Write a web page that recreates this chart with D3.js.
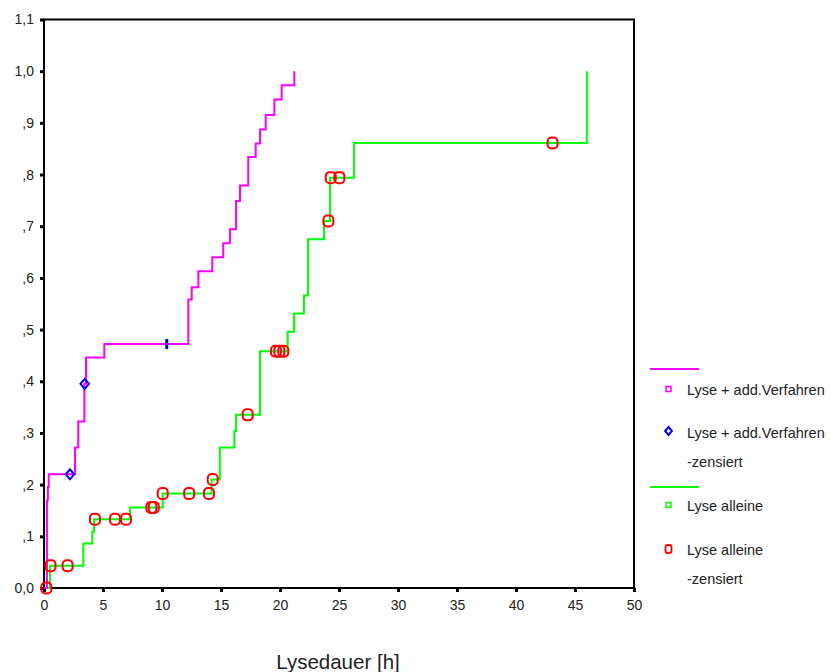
<!DOCTYPE html>
<html>
<head>
<meta charset="utf-8">
<script src="https://cdn.jsdelivr.net/npm/d3@7"></script>
<style>
  body { margin: 0; background: #fff; }
  svg text { font-family: "Liberation Sans", Arial, sans-serif; fill: #222; }
</style>
</head>
<body>
<div id="chart"></div>
<script>
"use strict";

// Kaplan-Meier style cumulative curves
const magTimes = [0, 0.25, 0.33, 0.4, 2.63, 2.9, 3.42, 3.56, 5.11, 12.23, 12.52, 13.08, 14.26, 15.19, 15.76, 16.27, 16.61, 17.31, 17.94, 18.31, 18.79, 19.52, 20.14, 21.21];
const magValues = [0, 0.17, 0.195, 0.22, 0.272, 0.322, 0.395, 0.446, 0.472, 0.558, 0.582, 0.613, 0.64, 0.667, 0.694, 0.749, 0.779, 0.834, 0.86, 0.887, 0.915, 0.945, 0.973, 1.0];
const magCensTimes = [2.2, 3.45];
const magCensValues = [0.22, 0.395];
const magTickTimes = [10.4];
const magTickValues = [0.472];

const greenTimes = [0, 0.5, 3.33, 4.09, 4.24, 7.29, 10.06, 14.2, 14.9, 16.13, 16.27, 18.3, 20.65, 21.19, 22.03, 22.37, 23.73, 24.24, 26.27, 46.0];
const greenValues = [0, 0.043, 0.086, 0.109, 0.133, 0.156, 0.183, 0.21, 0.272, 0.304, 0.335, 0.458, 0.496, 0.531, 0.566, 0.675, 0.71, 0.794, 0.861, 1.0];
const greenCensTimes = [0.2, 0.55, 2.0, 4.32, 6.02, 6.95, 9.1, 9.3, 10.06, 12.3, 13.98, 14.3, 17.26, 19.66, 19.94, 20.28, 24.1, 24.3, 25.03, 43.1];
const greenCensValues = [0, 0.043, 0.043, 0.133, 0.133, 0.133, 0.156, 0.156, 0.183, 0.183, 0.183, 0.21, 0.335, 0.458, 0.458, 0.458, 0.71, 0.794, 0.794, 0.861];

const xTicks = [0, 5, 10, 15, 20, 25, 30, 35, 40, 45, 50];
const yTicks = [0, 0.1, 0.2, 0.3, 0.4, 0.5, 0.6, 0.7, 0.8, 0.9, 1.0, 1.1];
const yTickLabels = ["0,0", ",1", ",2", ",3", ",4", ",5", ",6", ",7", ",8", ",9", "1,0", "1,1"];
const xTitle = "Lysedauer [h]";

const legendItems = [
  { kind: "line", color: "#ff00ff" },
  { kind: "square", color: "#ff00ff", lines: ["Lyse + add.Verfahren"] },
  { kind: "diamond", color: "#0000ff", lines: ["Lyse + add.Verfahren", "-zensiert"] },
  { kind: "line", color: "#00ff00" },
  { kind: "square", color: "#00ff00", lines: ["Lyse alleine"] },
  { kind: "censor", color: "#ff0000", lines: ["Lyse alleine", "-zensiert"] },
];

const width = 831;
const height = 672;
const plot = { left: 44, right: 634, top: 19.5, bottom: 588 };

const svg = d3.select("#chart").append("svg").attr("width", width).attr("height", height);

const x = d3.scaleLinear().domain([0, 50]).range([plot.left, plot.right]);
const y = d3.scaleLinear().domain([0, 1.1]).range([plot.bottom, plot.top]);

// axes: small square tick marks
const xAxis = svg.append("g")
  .attr("transform", `translate(0,${plot.bottom})`)
  .call(d3.axisBottom(x).tickValues(xTicks).tickSize(4).tickPadding(8).tickFormat(d3.format("d")));
const yAxis = svg.append("g")
  .attr("transform", `translate(${plot.left},0)`)
  .call(d3.axisLeft(y).tickValues(yTicks).tickSize(4).tickPadding(6).tickFormat((d, i) => yTickLabels[i]));

[xAxis, yAxis].forEach((g) => {
  g.select(".domain").remove();
  g.selectAll(".tick line").attr("stroke", "#000").attr("stroke-width", 3);
  g.selectAll(".tick text").style("font-size", "14px").attr("fill", "#222");
});

// frame
svg.append("rect")
  .attr("x", plot.left).attr("y", plot.top)
  .attr("width", plot.right - plot.left).attr("height", plot.bottom - plot.top)
  .attr("fill", "none").attr("stroke", "#000").attr("stroke-width", 2);

const stepLine = d3.line().x((d) => x(d[0])).y((d) => y(d[1])).curve(d3.curveStepAfter);

svg.append("path")
  .datum(d3.zip(greenTimes, greenValues))
  .attr("fill", "none").attr("stroke", "#00ff00").attr("stroke-width", 2)
  .attr("d", stepLine);

svg.append("path")
  .datum(d3.zip(magTimes, magValues))
  .attr("fill", "none").attr("stroke", "#ff00ff").attr("stroke-width", 2)
  .attr("d", stepLine);

// censored markers
const diamond = (s) => `M0,${-s}L${s * 0.85},0L0,${s}L${-s * 0.85},0Z`;

svg.append("g").selectAll("path")
  .data(d3.zip(magCensTimes, magCensValues))
  .join("path")
  .attr("transform", (d) => `translate(${x(d[0])},${y(d[1])})`)
  .attr("d", diamond(5))
  .attr("fill", "none").attr("stroke", "#0000ff").attr("stroke-width", 2);

svg.append("g").selectAll("line")
  .data(d3.zip(magTickTimes, magTickValues))
  .join("line")
  .attr("x1", (d) => x(d[0])).attr("x2", (d) => x(d[0]))
  .attr("y1", (d) => y(d[1]) - 5).attr("y2", (d) => y(d[1]) + 5)
  .attr("stroke", "#0000ff").attr("stroke-width", 3);

svg.append("g").selectAll("rect")
  .data(d3.zip(greenCensTimes, greenCensValues))
  .join("rect")
  .attr("x", (d) => x(d[0]) - 5).attr("y", (d) => y(d[1]) - 5.5)
  .attr("width", 10).attr("height", 11).attr("rx", 4)
  .attr("fill", "none").attr("stroke", "#ff0000").attr("stroke-width", 2);

// axis title
svg.append("text")
  .attr("x", 338).attr("y", 669)
  .attr("text-anchor", "middle")
  .style("font-size", "20.5px")
  .text(xTitle);

// legend
const legendY = [369, 390, 433, 487, 506, 550];
const legend = svg.append("g");
legendItems.forEach((item, i) => {
  const ly = legendY[i];
  if (item.kind === "line") {
    legend.append("line")
      .attr("x1", 650).attr("x2", 699).attr("y1", ly).attr("y2", ly)
      .attr("stroke", item.color).attr("stroke-width", 2);
    return;
  }
  if (item.kind === "square") {
    legend.append("rect")
      .attr("x", 666).attr("y", ly - 3.5).attr("width", 5).attr("height", 5)
      .attr("fill", "none").attr("stroke", item.color).attr("stroke-width", 1.5);
  } else if (item.kind === "diamond") {
    legend.append("path")
      .attr("transform", `translate(668.5,${ly - 2})`)
      .attr("d", diamond(4))
      .attr("fill", "none").attr("stroke", item.color).attr("stroke-width", 2);
  } else {
    legend.append("rect")
      .attr("x", 665.5).attr("y", ly - 5).attr("width", 6).attr("height", 8).attr("rx", 2)
      .attr("fill", "none").attr("stroke", item.color).attr("stroke-width", 1.8);
  }
  item.lines.forEach((t, j) => {
    legend.append("text")
      .attr("x", 687).attr("y", ly + j * 29)
      .attr("dy", "0.35em")
      .style("font-size", "14.5px")
      .text(t);
  });
});
</script>
</body>
</html>
